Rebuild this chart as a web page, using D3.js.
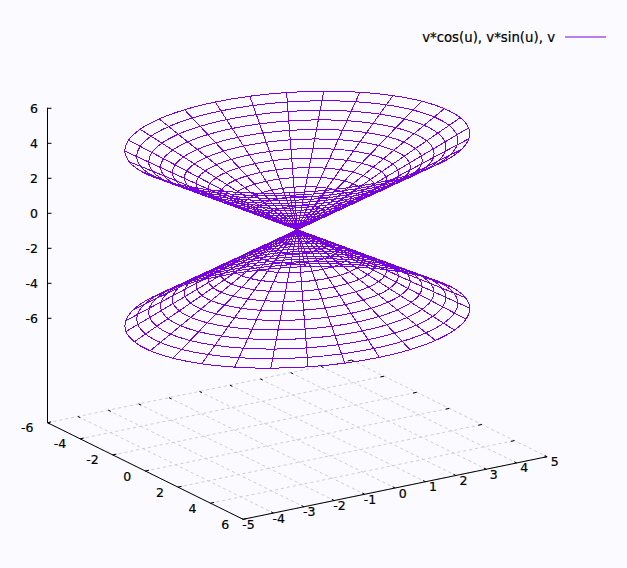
<!DOCTYPE html>
<html><head><meta charset="utf-8">
<script src="https://cdn.jsdelivr.net/npm/d3@7/dist/d3.min.js"></script>
<style>
html,body{margin:0;padding:0;background:#fbfbff;}
svg{display:block;}
text{font-family:"DejaVu Sans",sans-serif;font-size:12.5px;fill:#000;stroke:#000;stroke-width:0.2px;}
</style></head><body>
<script>
const legendLabel = "v*cos(u), v*sin(u), v";
const xTicks = [-5,-4,-3,-2,-1,0,1,2,3,4,5];
const yTicks = [-6,-4,-2,0,2,4,6];
const zTicks = [-6,-4,-2,0,2,4,6];
// surface sample levels as read from the wireframe (30 x 30 isolines)
const uDegrees = [-3.3,9.11,21.53,33.94,46.36,58.77,71.18,83.6,96.01,108.42,120.84,133.25,145.67,158.08,170.49,182.91,195.32,207.73,220.15,232.56,244.98,257.39,269.8,282.22,294.63,307.04,319.46,331.87,344.29];
const vLevels = [-5,-4.655,-4.31,-3.966,-3.621,-3.276,-2.931,-2.586,-2.241,-1.897,-1.552,-1.207,-0.862,-0.517,-0.172,0.172,0.517,0.862,1.207,1.552,1.897,2.241,2.586,2.931,3.276,3.621,3.966,4.31,4.655,5];

const W=627,H=568;
const svg=d3.select("body").append("svg").attr("width",W).attr("height",H);

// oblique projection: each data axis contributes its own linear screen offset
const xToSX=d3.scaleLinear().domain([-5,5]).range([-152,152]);
const xToSY=d3.scaleLinear().domain([-5,5]).range([31.3,-31.3]);
const yToSX=d3.scaleLinear().domain([-6,6]).range([-97.8,97.8]);
const yToSY=d3.scaleLinear().domain([-6,6]).range([-48.3,48.3]);
const zToSY=d3.scaleLinear().domain([-6,6]).range([318.3,108.3]);
const cx=297.3, baseDY=439.7-zToSY(-12);
const sx=(x,y)=>cx+xToSX(x)+yToSX(y);
const sy=(x,y,z)=>zToSY(z)+baseDY+xToSY(x)+yToSY(y);
const zBase=-12;

const line=d3.line().x(d=>sx(d[0],d[1])).y(d=>sy(d[0],d[1],d[2]));
const ring=d3.line().x(d=>sx(d[0],d[1])).y(d=>sy(d[0],d[1],d[2])).curve(d3.curveCatmullRomClosed.alpha(0.5));
const seg=(a,b)=>line([a,b]);

// base grid
const grid=svg.append("g").attr("fill","none").attr("stroke","#cdcdd2").attr("stroke-width",1).attr("stroke-dasharray","3,3");
xTicks.forEach(x=>grid.append("path").attr("d",seg([x,-6,zBase],[x,6,zBase])));
yTicks.forEach(y=>grid.append("path").attr("d",seg([-5,y,zBase],[5,y,zBase])));

// surface: the legend's formula applied to the sampled u and v levels
const rad=d=>d*Math.PI/180;
const pt=(u,v)=>[v*Math.cos(rad(u)),v*Math.sin(rad(u)),v];
const mesh=svg.append("g").attr("fill","none").attr("stroke","#7800e0").attr("stroke-width",1).attr("shape-rendering","crispEdges");
vLevels.forEach(v=>mesh.append("path").attr("d",ring(uDegrees.map(u=>pt(u,v)))));
uDegrees.forEach(u=>mesh.append("path").attr("d",line(vLevels.map(v=>pt(u,v)))));

// border
const border=svg.append("g").attr("fill","none").attr("stroke","#000").attr("stroke-width",1);
border.append("path").attr("d",line([[-5,-6,6],[-5,-6,zBase],[-5,6,zBase],[5,6,zBase]]));

// ticks
xTicks.forEach(x=>{
  border.append("path").attr("d",seg([x,6,zBase],[x,6-0.15,zBase]));
  border.append("path").attr("d",seg([x,-6,zBase],[x,-6+0.15,zBase]));
});
yTicks.forEach(y=>{
  border.append("path").attr("d",seg([-5,y,zBase],[-5+0.12,y,zBase]));
  border.append("path").attr("d",seg([5,y,zBase],[5-0.12,y,zBase]));
});
zTicks.forEach(z=>{
  const y0=zToSY(z);
  border.append("line").attr("x1",sx(-5,-6)).attr("x2",sx(-5,-6)+4).attr("y1",y0).attr("y2",y0);
});

// labels
const labels=svg.append("g").attr("text-anchor","end").attr("dominant-baseline","central");
zTicks.forEach(z=>labels.append("text").attr("x",sx(-5,-6)-9.5).attr("y",zToSY(z)).text(z));
yTicks.forEach(y=>labels.append("text").attr("x",sx(-5,y)-14).attr("y",sy(-5,y,zBase)+5).text(y));
xTicks.forEach(x=>labels.append("text").attr("x",sx(x,6)+11.5).attr("y",sy(x,6,zBase)+5).text(x));

// legend
svg.append("text").attr("x",555).attr("y",37).attr("text-anchor","end").attr("dominant-baseline","central").style("font-size","13.3px").text(legendLabel);
svg.append("line").attr("x1",565).attr("x2",606).attr("y1",37).attr("y2",37).attr("stroke","#7800e0").attr("stroke-width",1);
</script>
</body></html>
